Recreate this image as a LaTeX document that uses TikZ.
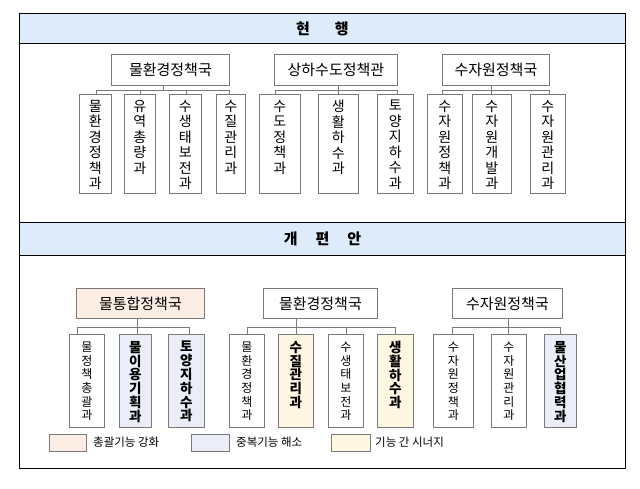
\documentclass[tikz,border=0pt]{standalone}
\usepackage{fontspec}
\setmainfont{Noto Sans CJK KR}
\definecolor{hdrblue}{HTML}{DEEBFA}
\definecolor{peach}{HTML}{FDEEE5}
\definecolor{lblue}{HTML}{EBEEF8}
\definecolor{lyellow}{HTML}{FFF7E1}
\definecolor{boxgray}{HTML}{7A7A7A}
\newcommand\orgbar[4]{%
  \coordinate (vx) at (#2,#3);
  \draw[conn] (vx |- #1.south) -- (vx);
  \foreach \c/\t in {#4} {%
    \coordinate (tk) at (\t,#3);
    \draw[conn] (vx) -- (tk) -- (tk |- \c.north);
  }%
}
\begin{document}
\begin{tikzpicture}[x=1pt,y=-1pt,
 frame/.style={draw=black,line width=1.1pt,inner sep=0,anchor=north west},
 hdr/.style={draw=black,line width=1pt,fill=hdrblue,inner sep=0,anchor=north west,font=\bfseries\fontsize{15}{18}\selectfont},
 pbox/.style={draw=boxgray,line width=0.8pt,fill=white,inner sep=0,anchor=north west,font=\fontsize{15}{18}\selectfont},
 cbox/.style={draw=boxgray,line width=0.8pt,fill=white,inner sep=0,anchor=north west},
 ttxt/.style={anchor=north,inner sep=0,align=center,font=\fontsize{14}{15.5}\selectfont},
 btxt/.style={anchor=north,inner sep=0,align=center,font=\fontsize{12}{13.6}\selectfont},
 bbtxt/.style={anchor=north,inner sep=0,align=center,font=\bfseries\fontsize{13.5}{13.8}\selectfont},
 conn/.style={draw=boxgray,line width=0.7pt},
 lgbox/.style={draw=boxgray,line width=0.8pt,inner sep=0,anchor=north west,minimum width=#1,minimum height=17pt},
 lgtxt/.style={anchor=west,inner sep=0,font=\fontsize{11.5}{13}\selectfont}]
\useasboundingbox (0,0) rectangle (640,489);
% frame and headers
\node[frame,minimum width=606pt,minimum height=455pt] (frame) at (19,13) {};
\node[hdr,minimum width=606pt,minimum height=30pt] (hdr1) at (19,13) {현\hspace{25pt}행};
\node[hdr,minimum width=606pt,minimum height=33pt] (hdr2) at (19,222) {개\hspace{18pt}편\hspace{18pt}안};

% ===== top (현행) =====
\node[pbox,minimum width=118pt,minimum height=31pt] (P1) at (111,54) {물환경정책국};
\node[pbox,minimum width=123pt,minimum height=31pt] (P2) at (274,54) {상하수도정책관};
\node[pbox,minimum width=107pt,minimum height=31pt] (P3) at (442,54) {수자원정책국};

\foreach \n/\xa/\w in {A1/79/32,A2/124/31,A3/169/32,A4/216/29,A5/259/41,A6/318/40,A7/377/36,A8/427/35,A9/472/39,A10/530/35}
  \node[cbox,minimum width=\w pt,minimum height=99pt] (\n) at (\xa,94) {};

\node[ttxt] (A1t) at ([yshift=-6pt]A1.north) {물\\환\\경\\정\\책\\과};
\node[ttxt] (A2t) at ([yshift=-6pt]A2.north) {유\\역\\총\\량\\과};
\node[ttxt] (A3t) at ([yshift=-6pt]A3.north) {수\\생\\태\\보\\전\\과};
\node[ttxt] (A4t) at ([yshift=-6pt]A4.north) {수\\질\\관\\리\\과};
\node[ttxt] (A5t) at ([yshift=-6pt]A5.north) {수\\도\\정\\책\\과};
\node[ttxt] (A6t) at ([yshift=-6pt]A6.north) {생\\활\\하\\수\\과};
\node[ttxt] (A7t) at ([yshift=-6pt]A7.north) {토\\양\\지\\하\\수\\과};
\node[ttxt] (A8t) at ([yshift=-6pt]A8.north) {수\\자\\원\\정\\책\\과};
\node[ttxt] (A9t) at ([yshift=-6pt]A9.north) {수\\자\\원\\개\\발\\과};
\node[ttxt] (A10t) at ([yshift=-6pt]A10.north) {수\\자\\원\\관\\리\\과};

\orgbar{P1}{163}{90}{A1/96,A2/140,A3/186,A4/229}
\orgbar{P2}{338}{90}{A5/275,A6/338,A7/397}
\orgbar{P3}{491}{90}{A8/442,A9/491,A10/549}

% ===== bottom (개편안) =====
\node[pbox,fill=peach,minimum width=128pt,minimum height=30pt] (Q1) at (76,288) {물통합정책국};
\node[pbox,minimum width=114pt,minimum height=30pt] (Q2) at (263,288) {물환경정책국};
\node[pbox,minimum width=110pt,minimum height=30pt] (Q3) at (452,288) {수자원정책국};

\foreach \n/\xa/\w/\f in {B1/69/35/white,B2/119/32/lblue,B3/168/36/lblue,B4/229/35/white,B5/278/35/lyellow,B6/328/35/white,B7/377/36/lyellow,B8/433/40/white,B9/491/35/white,B10/544/32/lblue}
  \node[cbox,fill=\f,minimum width=\w pt,minimum height=93pt] (\n) at (\xa,334) {};

\node[btxt] (B1t) at ([yshift=-8pt]B1.north) {물\\정\\책\\총\\괄\\과};
\node[bbtxt] (B2t) at ([yshift=-7pt]B2.north) {물\\이\\용\\기\\획\\과};
\node[bbtxt] (B3t) at ([yshift=-7pt]B3.north) {토\\양\\지\\하\\수\\과};
\node[btxt] (B4t) at ([yshift=-8pt]B4.north) {물\\환\\경\\정\\책\\과};
\node[bbtxt] (B5t) at ([yshift=-7pt]B5.north) {수\\질\\관\\리\\과};
\node[btxt] (B6t) at ([yshift=-8pt]B6.north) {수\\생\\태\\보\\전\\과};
\node[bbtxt] (B7t) at ([yshift=-7pt]B7.north) {생\\활\\하\\수\\과};
\node[btxt] (B8t) at ([yshift=-8pt]B8.north) {수\\자\\원\\정\\책\\과};
\node[btxt] (B9t) at ([yshift=-8pt]B9.north) {수\\자\\원\\관\\리\\과};
\node[bbtxt] (B10t) at ([yshift=-7pt]B10.north) {물\\산\\업\\협\\력\\과};

\orgbar{Q1}{137}{327}{B1/77,B2/137,B3/189}
\orgbar{Q2}{296}{327}{B4/247,B5/296,B6/346,B7/395}
\orgbar{Q3}{508}{327}{B8/452,B9/508,B10/560}

% ===== legend =====
\node[lgbox=37pt,fill=peach] (L1) at (49,434) {};
\node[lgtxt] (L1t) at (93,442.5) {총괄기능 강화};
\node[lgbox=38pt,fill=lblue] (L2) at (191,434) {};
\node[lgtxt] (L2t) at (236,442.5) {중복기능 해소};
\node[lgbox=39pt,fill=lyellow] (L3) at (331,434) {};
\node[lgtxt] (L3t) at (375,442.5) {기능 간 시너지};
\end{tikzpicture}
\end{document}
